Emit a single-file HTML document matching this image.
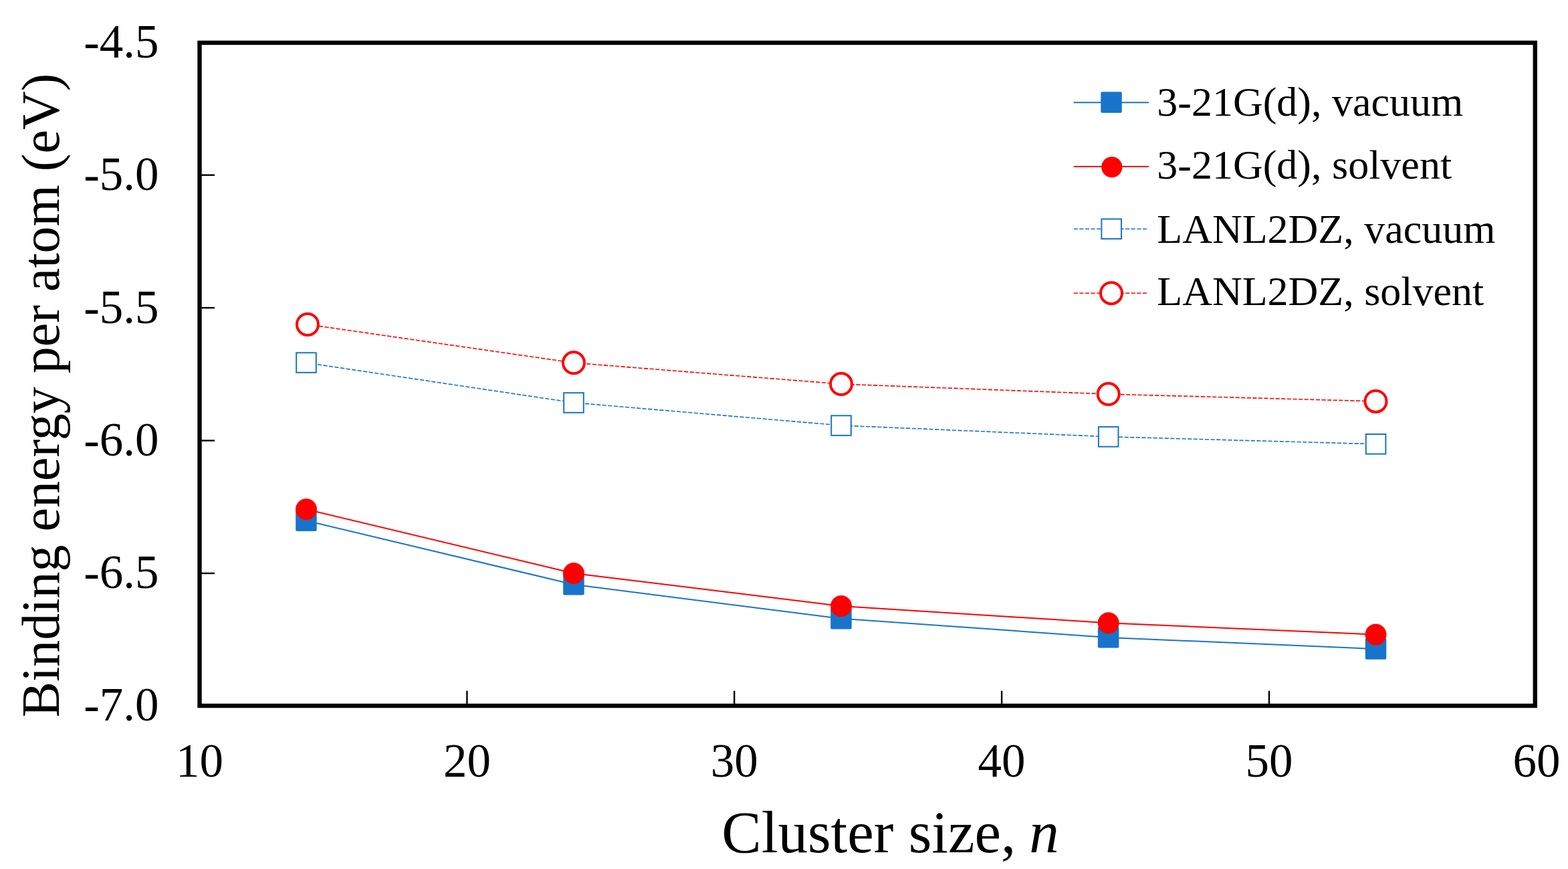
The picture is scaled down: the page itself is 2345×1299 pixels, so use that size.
<!DOCTYPE html>
<html>
<head>
<meta charset="utf-8">
<style>
html,body{margin:0;padding:0;background:#fff;}
body{width:2345px;height:1299px;overflow:hidden;}
svg{display:block;}
text{font-family:"Liberation Serif","Times New Roman",serif;fill:#000;}
</style>
</head>
<body>
<svg width="2345" height="1299" viewBox="0 0 2345 1299">
<rect x="0" y="0" width="2345" height="1299" fill="#fff"/>

<!-- ticks -->
<g stroke="#000" stroke-width="2.4" fill="none">
<line x1="298" y1="261.7" x2="321" y2="261.7"/>
<line x1="298" y1="460.1" x2="321" y2="460.1"/>
<line x1="298" y1="658.6" x2="321" y2="658.6"/>
<line x1="298" y1="857" x2="321" y2="857"/>
<line x1="698.4" y1="1032.6" x2="698.4" y2="1055"/>
<line x1="1098.2" y1="1032.6" x2="1098.2" y2="1055"/>
<line x1="1498.1" y1="1032.6" x2="1498.1" y2="1055"/>
<line x1="1898" y1="1032.6" x2="1898" y2="1055"/>
</g>

<!-- frame -->
<rect x="298.5" y="63.9" width="1997.3" height="991.1" fill="none" stroke="#000" stroke-width="6.4"/>

<!-- y tick labels -->
<g font-size="71" text-anchor="end">
<text x="237.6" y="86.1">-4.5</text>
<text x="237.6" y="284.3">-5.0</text>
<text x="237.6" y="482.5">-5.5</text>
<text x="237.6" y="680.7">-6.0</text>
<text x="237.6" y="878.9">-6.5</text>
<text x="237.6" y="1077.1">-7.0</text>
</g>

<!-- x tick labels -->
<g font-size="71" text-anchor="middle">
<text x="298.5" y="1161">10</text>
<text x="698.4" y="1161">20</text>
<text x="1098.2" y="1161">30</text>
<text x="1498.1" y="1161">40</text>
<text x="1898" y="1161">50</text>
<text x="2297.9" y="1161">60</text>
</g>

<!-- axis titles -->
<text x="1079.35" y="1274.4" font-size="89">Cluster size, <tspan font-style="italic" dx="-2.3">n</tspan></text>
<text transform="translate(87.8,1072.3) rotate(-90)" font-size="80">Binding energy per atom (eV)</text>

<!-- series lines -->
<g fill="none" stroke-width="2">
<polyline stroke="#1874ca" points="458,778.3 858,873.8 1258,924.7 1657.7,952.9 2057.5,970"/>
<polyline stroke="#ff0000" points="458,761.3 858,857 1258,906 1657.7,931.3 2057.5,948.6"/>
<polyline stroke="#1874ca" stroke-dasharray="6.2 2.4" stroke-width="1.6" points="458,542.3 858,601.9 1258,636 1657.7,652.8 2057.5,663.8"/>
<polyline stroke="#ff0000" stroke-dasharray="6.2 2.4" stroke-width="1.6" points="460,485 858,542.3 1258,574.1 1657.7,589.1 2057.5,599.9"/>
</g>

<!-- markers: filled squares -->
<g fill="#1874ca">
<rect x="442.2" y="762.5" width="31.5" height="31.5" rx="2"/>
<rect x="842.2" y="858" width="31.5" height="31.5" rx="2"/>
<rect x="1242.2" y="909" width="31.5" height="31.5" rx="2"/>
<rect x="1641.9" y="937.1" width="31.5" height="31.5" rx="2"/>
<rect x="2041.8" y="954.2" width="31.5" height="31.5" rx="2"/>
</g>
<!-- filled circles -->
<g fill="#ff0000">
<circle cx="458" cy="761.3" r="16"/>
<circle cx="858" cy="857" r="16"/>
<circle cx="1258" cy="906" r="16"/>
<circle cx="1657.7" cy="931.3" r="16"/>
<circle cx="2057.5" cy="948.6" r="16"/>
</g>
<!-- open squares -->
<g fill="#fff" stroke="#1874ca" stroke-width="2">
<rect x="443.2" y="527.3" width="29.6" height="29.6"/>
<rect x="843.2" y="587.2" width="29.6" height="29.6"/>
<rect x="1243.2" y="621.3" width="29.6" height="29.6"/>
<rect x="1642.9" y="638.1" width="29.6" height="29.6"/>
<rect x="2042.8" y="649" width="29.6" height="29.6"/>
</g>
<!-- open circles -->
<g fill="#fff" stroke="#ff0000" stroke-width="4">
<circle cx="460" cy="485" r="16"/>
<circle cx="858" cy="542.3" r="16"/>
<circle cx="1258" cy="574.1" r="16"/>
<circle cx="1657.7" cy="589.1" r="16"/>
<circle cx="2057.5" cy="599.9" r="16"/>
</g>

<!-- legend -->
<g fill="none" stroke-width="2">
<line x1="1605.7" y1="153.2" x2="1718" y2="153.2" stroke="#1874ca"/>
<line x1="1605.7" y1="249" x2="1718" y2="249" stroke="#ff0000"/>
<line x1="1605.7" y1="342.2" x2="1716" y2="342.2" stroke="#1874ca" stroke-dasharray="6.2 2.4" stroke-width="1.6"/>
<line x1="1605.7" y1="438.2" x2="1716" y2="438.2" stroke="#ff0000" stroke-dasharray="6.2 2.4" stroke-width="1.6"/>
</g>
<rect x="1646.3" y="137.3" width="31.5" height="31.5" rx="2" fill="#1874ca"/>
<circle cx="1662.8" cy="249.8" r="15.6" fill="#ff0000"/>
<rect x="1647.4" y="327.4" width="29.6" height="29.6" fill="#fff" stroke="#1874ca" stroke-width="2"/>
<circle cx="1662" cy="438.2" r="16" fill="#fff" stroke="#ff0000" stroke-width="4"/>
<g font-size="62">
<text x="1730.3" y="173.4">3-21G(d), vacuum</text>
<text x="1730.3" y="266.5">3-21G(d), solvent</text>
<text x="1730.3" y="362.8">LANL2DZ, vacuum</text>
<text x="1730.3" y="456.3">LANL2DZ, solvent</text>
</g>
</svg>
</body>
</html>
